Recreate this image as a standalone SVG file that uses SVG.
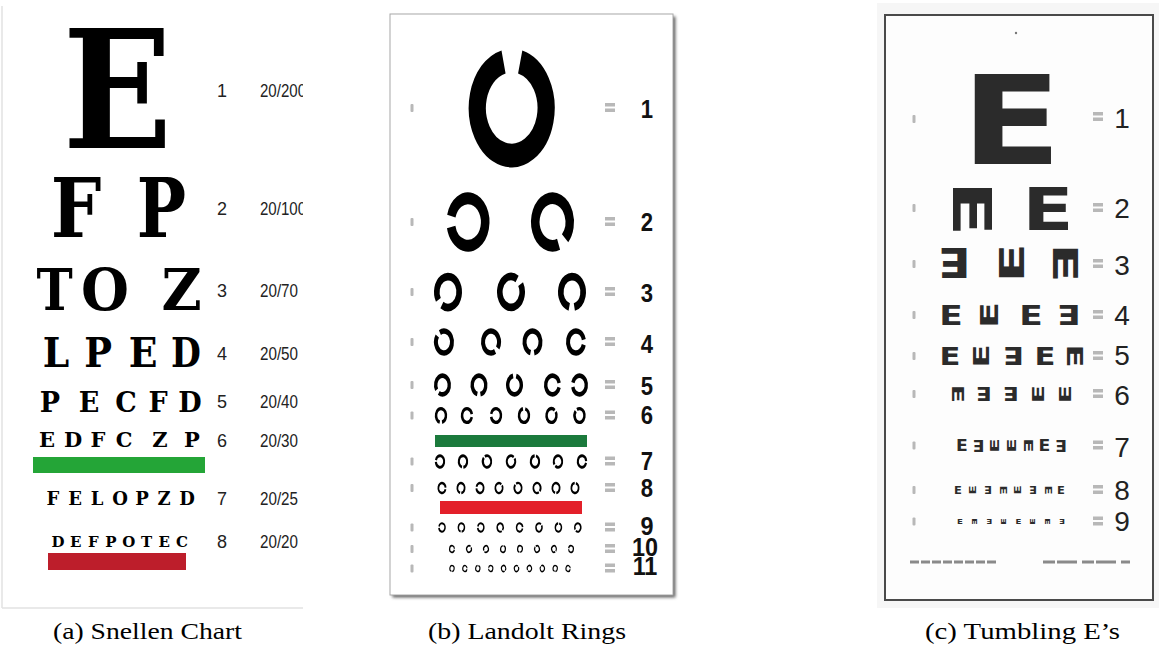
<svg xmlns="http://www.w3.org/2000/svg" width="1159" height="648" viewBox="0 0 1159 648">
<style>
.sn{font-family:'DejaVu Serif',serif;font-weight:bold;text-anchor:middle;fill:#000}
.num{font-family:'Liberation Sans',Arial,sans-serif;fill:#222}
.lnum{font-family:'Liberation Sans',Arial,sans-serif;font-weight:bold;font-size:26px;text-anchor:middle;fill:#111}
.tnum{font-family:'Liberation Sans',Arial,sans-serif;font-size:28px;text-anchor:middle;fill:#222}
.cap{font-family:'Liberation Serif','Times New Roman',serif;font-size:24px;text-anchor:middle;fill:#000}
.te{font-family:'DejaVu Sans',sans-serif;font-weight:bold;font-size:10px;text-anchor:middle;fill:#2b2b2b}
.mk{fill:#b8b8b8}
</style>
<defs>
<circle id="lr" r="8" fill="none" stroke="#000" stroke-width="4" stroke-dasharray="46.27 4"/>
<g id="mkL" class="mk"><rect x="-1.5" y="-4" width="3" height="8" rx="1"/></g>
<g id="mkR" class="mk"><rect x="-5" y="-5" width="10" height="3.5"/><rect x="-5" y="0.5" width="10" height="3.5"/></g>
<clipPath id="clipA"><rect x="0" y="0" width="303" height="610"/></clipPath>
<filter id="sh" x="-5%" y="-5%" width="110%" height="110%"><feGaussianBlur stdDeviation="1.5"/></filter>
</defs>
<rect width="1159" height="648" fill="#fff"/>

<!-- (a) Snellen chart -->
<g id="snellen">
<line x1="2" y1="6" x2="2" y2="608" stroke="#e2e2e2" stroke-width="1.5"/>
<line x1="2" y1="608" x2="303" y2="608" stroke="#e2e2e2" stroke-width="1.5"/>
<text class="sn" font-size="165" transform="translate(117.5,148) scale(0.87,1)">E</text>
<text class="sn" font-size="82" transform="translate(76,237) scale(0.87,1)">F</text>
<text class="sn" font-size="82" transform="translate(161.5,237) scale(0.8,1)">P</text>
<text class="sn" font-size="58" transform="translate(54.5,310) scale(0.84,1)">T</text>
<text class="sn" font-size="58" transform="translate(105,310) scale(0.95,1)">O</text>
<text class="sn" font-size="58" transform="translate(181.5,310) scale(0.95,1)">Z</text>
<text class="sn" font-size="41" transform="translate(56,367) scale(0.92,1)">L</text>
<text class="sn" font-size="41" transform="translate(98,367) scale(0.9,1)">P</text>
<text class="sn" font-size="41" transform="translate(143,367) scale(0.92,1)">E</text>
<text class="sn" font-size="41" transform="translate(186,367) scale(0.84,1)">D</text>
<g class="sn" font-size="27"><text x="50" y="412">P</text><text x="89" y="412">E</text><text x="126" y="412">C</text><text x="158" y="412">F</text><text x="190" y="412">D</text></g>
<g class="sn" font-size="21"><text x="47" y="447">E</text><text x="73" y="447">D</text><text x="98" y="447">F</text><text x="124" y="447">C</text><text x="160" y="447">Z</text><text x="192" y="447">P</text></g>
<rect x="33" y="457" width="172" height="16" fill="#24a537"/>
<g class="sn" font-size="18"><text x="53" y="505">F</text><text x="75" y="505">E</text><text x="97" y="505">L</text><text x="120" y="505">O</text><text x="142" y="505">P</text><text x="164" y="505">Z</text><text x="187" y="505">D</text></g>
<g class="sn" font-size="15"><text x="58" y="547">D</text><text x="75.7" y="547">E</text><text x="93.4" y="547">F</text><text x="111" y="547">P</text><text x="128.8" y="547">O</text><text x="146.5" y="547">T</text><text x="164.2" y="547">E</text><text x="182" y="547">C</text></g>
<rect x="48" y="553" width="138" height="17" fill="#bd1e2b"/>
<g class="num" font-size="18" text-anchor="middle">
<text x="222" y="97">1</text><text x="222" y="215">2</text><text x="222" y="297">3</text><text x="222" y="360">4</text>
<text x="222" y="408">5</text><text x="222" y="447">6</text><text x="222" y="505">7</text><text x="222" y="548">8</text>
</g>
<g class="num" font-size="18" clip-path="url(#clipA)">
<text x="260" y="97" textLength="46" lengthAdjust="spacingAndGlyphs">20/200</text>
<text x="260" y="215" textLength="46" lengthAdjust="spacingAndGlyphs">20/100</text>
<text x="260" y="297" textLength="38" lengthAdjust="spacingAndGlyphs">20/70</text>
<text x="260" y="360" textLength="38" lengthAdjust="spacingAndGlyphs">20/50</text>
<text x="260" y="408" textLength="38" lengthAdjust="spacingAndGlyphs">20/40</text>
<text x="260" y="447" textLength="38" lengthAdjust="spacingAndGlyphs">20/30</text>
<text x="260" y="505" textLength="38" lengthAdjust="spacingAndGlyphs">20/25</text>
<text x="260" y="548" textLength="38" lengthAdjust="spacingAndGlyphs">20/20</text>
</g>
</g>

<!-- (b) Landolt rings -->
<g id="landolt">
<rect x="392.5" y="16.5" width="283" height="581" fill="#666" filter="url(#sh)"/>
<rect x="390" y="14" width="283" height="581" fill="#fff" stroke="#a8a8a8" stroke-width="1"/>
<use href="#lr" transform="translate(511.7,108) scale(4.3,5.93) rotate(284.3)"/>
<use href="#lr" transform="translate(468,222) scale(2.15,2.97) rotate(194.3)"/>
<use href="#lr" transform="translate(552.5,222) scale(2.15,2.97) rotate(69.3)"/>
<use href="#lr" transform="translate(448,292) scale(1.4,1.93) rotate(149.3)"/>
<use href="#lr" transform="translate(511,292) scale(1.4,1.93) rotate(329.3)"/>
<use href="#lr" transform="translate(572,292) scale(1.4,1.93) rotate(104.3)"/>
<use href="#lr" transform="translate(444,342) scale(1,1.38) rotate(239.3)"/>
<use href="#lr" transform="translate(491,342) scale(1,1.38) rotate(59.3)"/>
<use href="#lr" transform="translate(532.5,342) scale(1,1.38) rotate(104.3)"/>
<use href="#lr" transform="translate(576,342) scale(1,1.38) rotate(14.3)"/>
<use href="#lr" transform="translate(442.5,385) scale(0.85,1.17) rotate(149.3)"/>
<use href="#lr" transform="translate(479,385) scale(0.85,1.17) rotate(104.3)"/>
<use href="#lr" transform="translate(514.5,385) scale(0.85,1.17) rotate(284.3)"/>
<use href="#lr" transform="translate(552.5,385) scale(0.85,1.17) rotate(14.3)"/>
<use href="#lr" transform="translate(579.5,385) scale(0.85,1.17) rotate(194.3)"/>
<use href="#lr" transform="translate(441,415.5) scale(0.62,0.86) rotate(104.3)"/>
<use href="#lr" transform="translate(467,415.5) scale(0.62,0.86) rotate(14.3)"/>
<use href="#lr" transform="translate(496,415.5) scale(0.62,0.86) rotate(194.3)"/>
<use href="#lr" transform="translate(524,415.5) scale(0.62,0.86) rotate(284.3)"/>
<use href="#lr" transform="translate(551.5,415.5) scale(0.62,0.86) rotate(329.3)"/>
<use href="#lr" transform="translate(579.5,415.5) scale(0.62,0.86) rotate(239.3)"/>
<rect x="435" y="435" width="152" height="12" fill="#1b7a3c"/>
<use href="#lr" transform="translate(440,461.5) scale(0.52,0.72) rotate(194.3)"/>
<use href="#lr" transform="translate(463,461.5) scale(0.52,0.72) rotate(104.3)"/>
<use href="#lr" transform="translate(487,461.5) scale(0.52,0.72) rotate(239.3)"/>
<use href="#lr" transform="translate(511,461.5) scale(0.52,0.72) rotate(329.3)"/>
<use href="#lr" transform="translate(535,461.5) scale(0.52,0.72) rotate(284.3)"/>
<use href="#lr" transform="translate(558,461.5) scale(0.52,0.72) rotate(149.3)"/>
<use href="#lr" transform="translate(582,461.5) scale(0.52,0.72) rotate(14.3)"/>
<use href="#lr" transform="translate(442,488) scale(0.45,0.62) rotate(14.3)"/>
<use href="#lr" transform="translate(461,488) scale(0.45,0.62) rotate(104.3)"/>
<use href="#lr" transform="translate(480,488) scale(0.45,0.62) rotate(194.3)"/>
<use href="#lr" transform="translate(499,488) scale(0.45,0.62) rotate(329.3)"/>
<use href="#lr" transform="translate(518,488) scale(0.45,0.62) rotate(239.3)"/>
<use href="#lr" transform="translate(537,488) scale(0.45,0.62) rotate(59.3)"/>
<use href="#lr" transform="translate(556,488) scale(0.45,0.62) rotate(104.3)"/>
<use href="#lr" transform="translate(575,488) scale(0.45,0.62) rotate(284.3)"/>
<rect x="440" y="501" width="142" height="13" fill="#e3202a"/>
<use href="#lr" transform="translate(442,527.5) scale(0.38,0.52) rotate(194.3)"/>
<use href="#lr" transform="translate(461.4,527.5) scale(0.38,0.52) rotate(104.3)"/>
<use href="#lr" transform="translate(480.8,527.5) scale(0.38,0.52) rotate(194.3)"/>
<use href="#lr" transform="translate(500.2,527.5) scale(0.38,0.52) rotate(59.3)"/>
<use href="#lr" transform="translate(519.6,527.5) scale(0.38,0.52) rotate(14.3)"/>
<use href="#lr" transform="translate(539,527.5) scale(0.38,0.52) rotate(329.3)"/>
<use href="#lr" transform="translate(558.4,527.5) scale(0.38,0.52) rotate(284.3)"/>
<use href="#lr" transform="translate(577.8,527.5) scale(0.38,0.52) rotate(149.3)"/>
<use href="#lr" transform="translate(452,549) scale(0.3,0.41) rotate(14.3)"/>
<use href="#lr" transform="translate(469,549) scale(0.3,0.41) rotate(329.3)"/>
<use href="#lr" transform="translate(486,549) scale(0.3,0.41) rotate(149.3)"/>
<use href="#lr" transform="translate(503,549) scale(0.3,0.41) rotate(284.3)"/>
<use href="#lr" transform="translate(520,549) scale(0.3,0.41) rotate(104.3)"/>
<use href="#lr" transform="translate(537,549) scale(0.3,0.41) rotate(239.3)"/>
<use href="#lr" transform="translate(554,549) scale(0.3,0.41) rotate(59.3)"/>
<use href="#lr" transform="translate(571,549) scale(0.3,0.41) rotate(194.3)"/>
<use href="#lr" transform="translate(452,568.5) scale(0.27,0.37) rotate(104.3)"/>
<use href="#lr" transform="translate(464.9,568.5) scale(0.27,0.37) rotate(14.3)"/>
<use href="#lr" transform="translate(477.8,568.5) scale(0.27,0.37) rotate(284.3)"/>
<use href="#lr" transform="translate(490.7,568.5) scale(0.27,0.37) rotate(194.3)"/>
<use href="#lr" transform="translate(503.6,568.5) scale(0.27,0.37) rotate(59.3)"/>
<use href="#lr" transform="translate(516.5,568.5) scale(0.27,0.37) rotate(329.3)"/>
<use href="#lr" transform="translate(529.4,568.5) scale(0.27,0.37) rotate(149.3)"/>
<use href="#lr" transform="translate(542.3,568.5) scale(0.27,0.37) rotate(239.3)"/>
<use href="#lr" transform="translate(555.2,568.5) scale(0.27,0.37) rotate(104.3)"/>
<use href="#lr" transform="translate(568.1,568.5) scale(0.27,0.37) rotate(14.3)"/>
<use href="#mkL" x="412" y="108"/><use href="#mkL" x="412" y="222"/><use href="#mkL" x="412" y="292"/><use href="#mkL" x="412" y="342"/>
<use href="#mkL" x="412" y="385"/><use href="#mkL" x="412" y="415.5"/><use href="#mkL" x="412" y="461.5"/><use href="#mkL" x="412" y="488"/>
<use href="#mkL" x="412" y="527.5"/><use href="#mkL" x="412" y="549"/><use href="#mkL" x="412" y="568.5"/>
<use href="#mkR" x="610" y="108"/><use href="#mkR" x="610" y="222"/><use href="#mkR" x="610" y="292"/><use href="#mkR" x="610" y="342"/>
<use href="#mkR" x="610" y="385"/><use href="#mkR" x="610" y="415.5"/><use href="#mkR" x="610" y="461.5"/><use href="#mkR" x="610" y="488"/>
<use href="#mkR" x="610" y="527.5"/><use href="#mkR" x="610" y="549"/><use href="#mkR" x="610" y="568.5"/>
<text class="lnum" transform="translate(647,118) scale(0.85,1)">1</text>
<text class="lnum" transform="translate(647,231) scale(0.85,1)">2</text>
<text class="lnum" transform="translate(647,302) scale(0.85,1)">3</text>
<text class="lnum" transform="translate(647,353) scale(0.85,1)">4</text>
<text class="lnum" transform="translate(647,395) scale(0.85,1)">5</text>
<text class="lnum" font-size="22" transform="translate(647,424) scale(0.85,1)">6</text>
<text class="lnum" font-size="22" transform="translate(647,470) scale(0.85,1)">7</text>
<text class="lnum" font-size="22" transform="translate(647,497) scale(0.85,1)">8</text>
<text class="lnum" font-size="19" transform="translate(647,535) scale(0.9,1)">9</text>
<text class="lnum" font-size="19" transform="translate(645,556) scale(0.9,1)">10</text>
<text class="lnum" font-size="19" transform="translate(645,575) scale(0.9,1)">11</text>
</g>

<!-- (c) Tumbling E -->
<g id="tumbling">
<rect x="877" y="3" width="282" height="605" fill="#f6f6f6"/>
<rect x="885" y="15" width="268" height="585" fill="#fdfdfd" stroke="#4a4a4a" stroke-width="2"/>
<circle cx="1016" cy="33" r="1.2" fill="#777"/>
<text class="te" y="3.645" transform="translate(1011.5,119) scale(14.72,12.35)">E</text>
<text class="te" y="3.645" transform="translate(972.5,208.5) scale(5.35,8.22) rotate(90)">E</text>
<text class="te" y="3.645" transform="translate(1048,208.5) scale(7.46,5.9)">E</text>
<text class="te" y="3.645" transform="translate(954.5,263) scale(4.78,4.12) rotate(180)">E</text>
<text class="te" y="3.645" transform="translate(1011.5,263) scale(3.43,5.74) rotate(270)">E</text>
<text class="te" y="3.645" transform="translate(1066,263) scale(3.43,5.74) rotate(90)">E</text>
<text class="te" y="3.645" transform="translate(951,315) scale(3.44,2.74)">E</text>
<text class="te" y="3.645" transform="translate(989,315) scale(2.47,3.82) rotate(270)">E</text>
<text class="te" y="3.645" transform="translate(1031,315) scale(3.44,2.74)">E</text>
<text class="te" y="3.645" transform="translate(1069,315) scale(3.44,2.74) rotate(180)">E</text>
<text class="te" y="3.645" transform="translate(950,356) scale(3.06,2.47)">E</text>
<text class="te" y="3.645" transform="translate(981.5,356) scale(2.19,3.44) rotate(270)">E</text>
<text class="te" y="3.645" transform="translate(1013.5,356) scale(3.06,2.47) rotate(180)">E</text>
<text class="te" y="3.645" transform="translate(1045,356) scale(3.06,2.47)">E</text>
<text class="te" y="3.645" transform="translate(1074.5,356) scale(2.19,3.44) rotate(90)">E</text>
<text class="te" y="3.645" transform="translate(958,394) scale(1.65,2.68) rotate(90)">E</text>
<text class="te" y="3.645" transform="translate(984,394) scale(2.29,1.92) rotate(180)">E</text>
<text class="te" y="3.645" transform="translate(1011,394) scale(2.29,1.92) rotate(180)">E</text>
<text class="te" y="3.645" transform="translate(1037.5,394) scale(1.65,2.68) rotate(270)">E</text>
<text class="te" y="3.645" transform="translate(1065,394) scale(1.65,2.68) rotate(270)">E</text>
<text class="te" y="3.645" transform="translate(962,445.5) scale(1.72,1.51)">E</text>
<text class="te" y="3.645" transform="translate(978.5,445.5) scale(1.72,1.51) rotate(180)">E</text>
<text class="te" y="3.645" transform="translate(995,445.5) scale(1.23,2.1) rotate(270)">E</text>
<text class="te" y="3.645" transform="translate(1011.5,445.5) scale(1.23,2.1) rotate(270)">E</text>
<text class="te" y="3.645" transform="translate(1028,445.5) scale(1.23,2.1) rotate(90)">E</text>
<text class="te" y="3.645" transform="translate(1044.5,445.5) scale(1.72,1.51)">E</text>
<text class="te" y="3.645" transform="translate(1061,445.5) scale(1.72,1.51) rotate(180)">E</text>
<text class="te" y="3.645" transform="translate(958,490) scale(1.15,0.96)">E</text>
<text class="te" y="3.645" transform="translate(973,490) scale(0.82,1.34) rotate(270)">E</text>
<text class="te" y="3.645" transform="translate(988,490) scale(1.15,0.96) rotate(180)">E</text>
<text class="te" y="3.645" transform="translate(1003,490) scale(0.82,1.34) rotate(90)">E</text>
<text class="te" y="3.645" transform="translate(1018,490) scale(0.82,1.34) rotate(270)">E</text>
<text class="te" y="3.645" transform="translate(1033,490) scale(1.15,0.96) rotate(180)">E</text>
<text class="te" y="3.645" transform="translate(1048,490) scale(0.82,1.34) rotate(90)">E</text>
<text class="te" y="3.645" transform="translate(1061,490) scale(1.15,0.96)">E</text>
<text class="te" y="3.645" transform="translate(960,521.5) scale(0.86,0.69)">E</text>
<text class="te" y="3.645" transform="translate(974.6,521.5) scale(0.62,0.96) rotate(90)">E</text>
<text class="te" y="3.645" transform="translate(989.2,521.5) scale(0.86,0.69) rotate(180)">E</text>
<text class="te" y="3.645" transform="translate(1003.8,521.5) scale(0.62,0.96) rotate(270)">E</text>
<text class="te" y="3.645" transform="translate(1018.4,521.5) scale(0.86,0.69)">E</text>
<text class="te" y="3.645" transform="translate(1033,521.5) scale(0.62,0.96) rotate(270)">E</text>
<text class="te" y="3.645" transform="translate(1047.6,521.5) scale(0.62,0.96) rotate(90)">E</text>
<text class="te" y="3.645" transform="translate(1062,521.5) scale(0.86,0.69) rotate(180)">E</text>
<use href="#mkL" x="914" y="119"/><use href="#mkL" x="914" y="208"/><use href="#mkL" x="914" y="264"/><use href="#mkL" x="914" y="315"/>
<use href="#mkL" x="914" y="356"/><use href="#mkL" x="914" y="394"/><use href="#mkL" x="914" y="445.5"/><use href="#mkL" x="914" y="490"/><use href="#mkL" x="914" y="521.5"/>
<use href="#mkR" x="1098" y="117"/><use href="#mkR" x="1098" y="208"/><use href="#mkR" x="1098" y="264"/><use href="#mkR" x="1098" y="315"/>
<use href="#mkR" x="1098" y="356"/><use href="#mkR" x="1098" y="394"/><use href="#mkR" x="1098" y="445.5"/><use href="#mkR" x="1098" y="490"/><use href="#mkR" x="1098" y="521.5"/>
<text class="tnum" x="1122" y="128">1</text>
<text class="tnum" x="1122" y="218">2</text>
<text class="tnum" x="1122" y="275">3</text>
<text class="tnum" x="1122" y="325">4</text>
<text class="tnum" x="1122" y="365">5</text>
<text class="tnum" x="1122" y="405">6</text>
<text class="tnum" x="1122" y="457" font-size="32">7</text>
<text class="tnum" x="1122" y="500" font-size="32">8</text>
<text class="tnum" x="1122" y="531" font-size="32">9</text>
<line x1="910" y1="562" x2="998" y2="562" stroke="#8a8a8a" stroke-width="3" stroke-dasharray="9 2"/>
<line x1="1043" y1="562" x2="1130" y2="562" stroke="#8a8a8a" stroke-width="3" stroke-dasharray="12 2 20 5"/>
</g>

<g id="captions">
<text class="cap" x="147.5" y="639" textLength="189" lengthAdjust="spacingAndGlyphs">(a) Snellen Chart</text>
<text class="cap" x="527" y="639" textLength="198" lengthAdjust="spacingAndGlyphs">(b) Landolt Rings</text>
<text class="cap" x="1022.5" y="639" textLength="195" lengthAdjust="spacingAndGlyphs">(c) Tumbling E’s</text>
</g>
</svg>
